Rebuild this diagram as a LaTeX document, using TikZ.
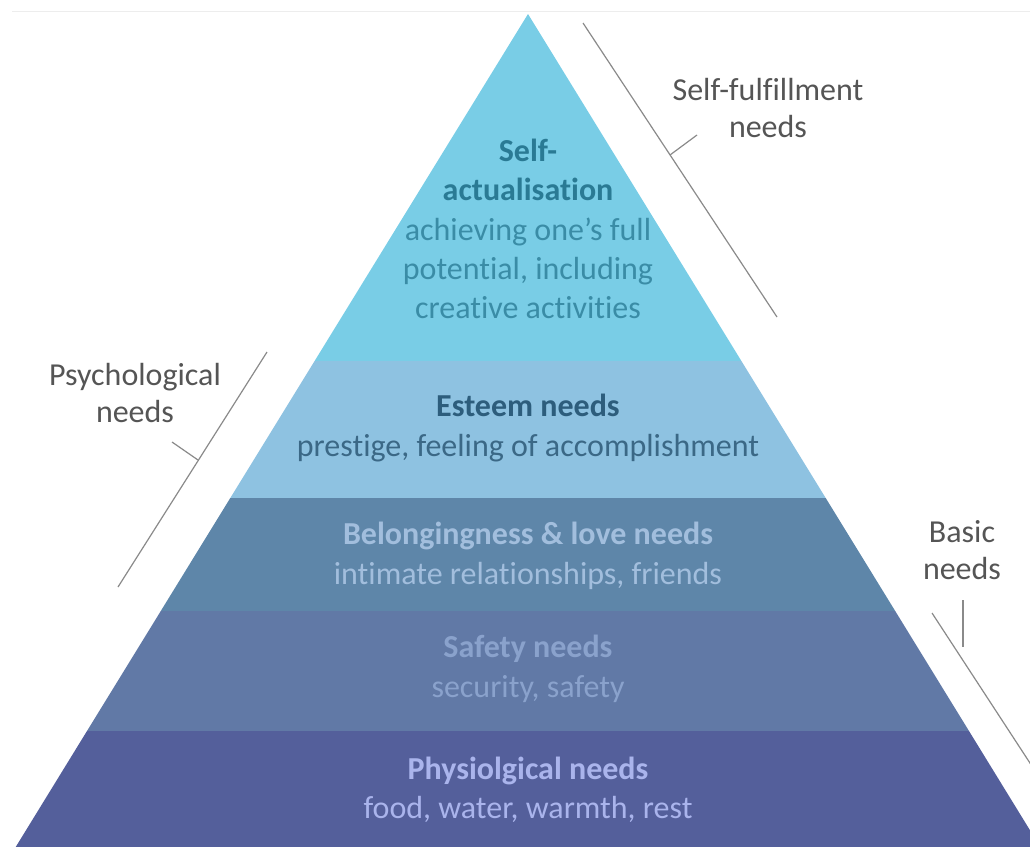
\documentclass[tikz,border=0pt]{standalone}
\usepackage{fontspec}
\setmainfont{Carlito}[Ligatures=NoCommon]
\definecolor{selffill}{HTML}{79CDE6}
\definecolor{esteemfill}{HTML}{8EC2E1}
\definecolor{lovefill}{HTML}{5E86A9}
\definecolor{safefill}{HTML}{6179A6}
\definecolor{physfill}{HTML}{545F9B}
\definecolor{selfhead}{HTML}{2A7A94}
\definecolor{selftext}{HTML}{3A8CA6}
\definecolor{esteemhead}{HTML}{2D5D7C}
\definecolor{esteemtext}{HTML}{3B6886}
\definecolor{lovetext}{HTML}{A2BEDD}
\definecolor{safetext}{HTML}{8AA2CC}
\definecolor{phystext}{HTML}{AAB4EC}
\definecolor{sidegray}{HTML}{555555}
\definecolor{linegray}{HTML}{8A8A8A}

\begin{document}
\begin{tikzpicture}[x=0.5pt,y=-0.5pt]

\tikzset{layer/.style = {align=center, font=\fontsize{16}{19.7}\selectfont}}
\tikzset{side/.style = {align=center, text=sidegray, font=\fontsize{16}{18.5}\selectfont}}
\tikzset{bracket/.style = {draw=linegray, line width=0.6pt}}

\useasboundingbox (0,0) rectangle (1030,847);
\clip (0,0) rectangle (1030,847);
\draw[black!7, line width=0.5pt] (12,11) -- (1030,11);

%layers
\fill[selffill] (528,14) -- (741.4,361) -- (314.6,361) -- cycle;
\fill[esteemfill] (314.6,361) -- (741.4,361) -- (825.7,498) -- (230.3,498) -- cycle;
\fill[lovefill] (230.3,498) -- (825.7,498) -- (895.2,611) -- (160.8,611) -- cycle;
\fill[safefill] (160.8,611) -- (895.2,611) -- (969.0,731) -- (87.0,731) -- cycle;
\fill[physfill] (87.0,731) -- (969.0,731) -- (1040.3,847) -- (15.7,847) -- cycle;

%texts
\node[layer, text=selftext] (selfact) at (528,229)
  {{\color{selfhead}\bfseries Self-}\\{\color{selfhead}\bfseries actualisation}\\achieving one’s full\\potential, including\\creative activities};
\node[layer, text=esteemtext] (esteem) at (528,428)
  {{\color{esteemhead}\bfseries Esteem needs}\\prestige, feeling of accomplishment};
\node[layer, text=lovetext] (love) at (528,556)
  {\bfseries Belongingness \& love needs\\intimate relationships, friends};
\node[layer, text=safetext] (safety) at (528,669)
  {\bfseries Safety needs\\security, safety};
\node[layer, text=phystext] (physio) at (528,790)
  {\bfseries Physiolgical needs\\food, water, warmth, rest};

%side labels
\node[side] (fulfil) at (768,108) {Self-fulfillment\\needs};
\node[side] (psych) at (135,393) {Psychological\\needs};
\node[side] (basic) at (962,550) {Basic\\needs};

%brackets
\coordinate (f1) at (583,23);
\coordinate (f2) at (777,317);
\coordinate (ft) at (670,155);
\coordinate (fe) at (697,135);
\draw[bracket] (f1) -- (f2);
\draw[bracket] (ft) -- (fe);

\coordinate (p1) at (267,352);
\coordinate (p2) at (118,587);
\coordinate (pt) at (198,460);
\coordinate (pe) at (172,442);
\draw[bracket] (p1) -- (p2);
\draw[bracket] (pt) -- (pe);

\coordinate (b1) at (932,613);
\coordinate (b2) at (1060,809);
\coordinate (bt) at (963,600);
\coordinate (be) at (963,647);
\draw[bracket] (b1) -- (b2);
\draw[bracket] (bt) -- (be);

\end{tikzpicture}
\end{document}
